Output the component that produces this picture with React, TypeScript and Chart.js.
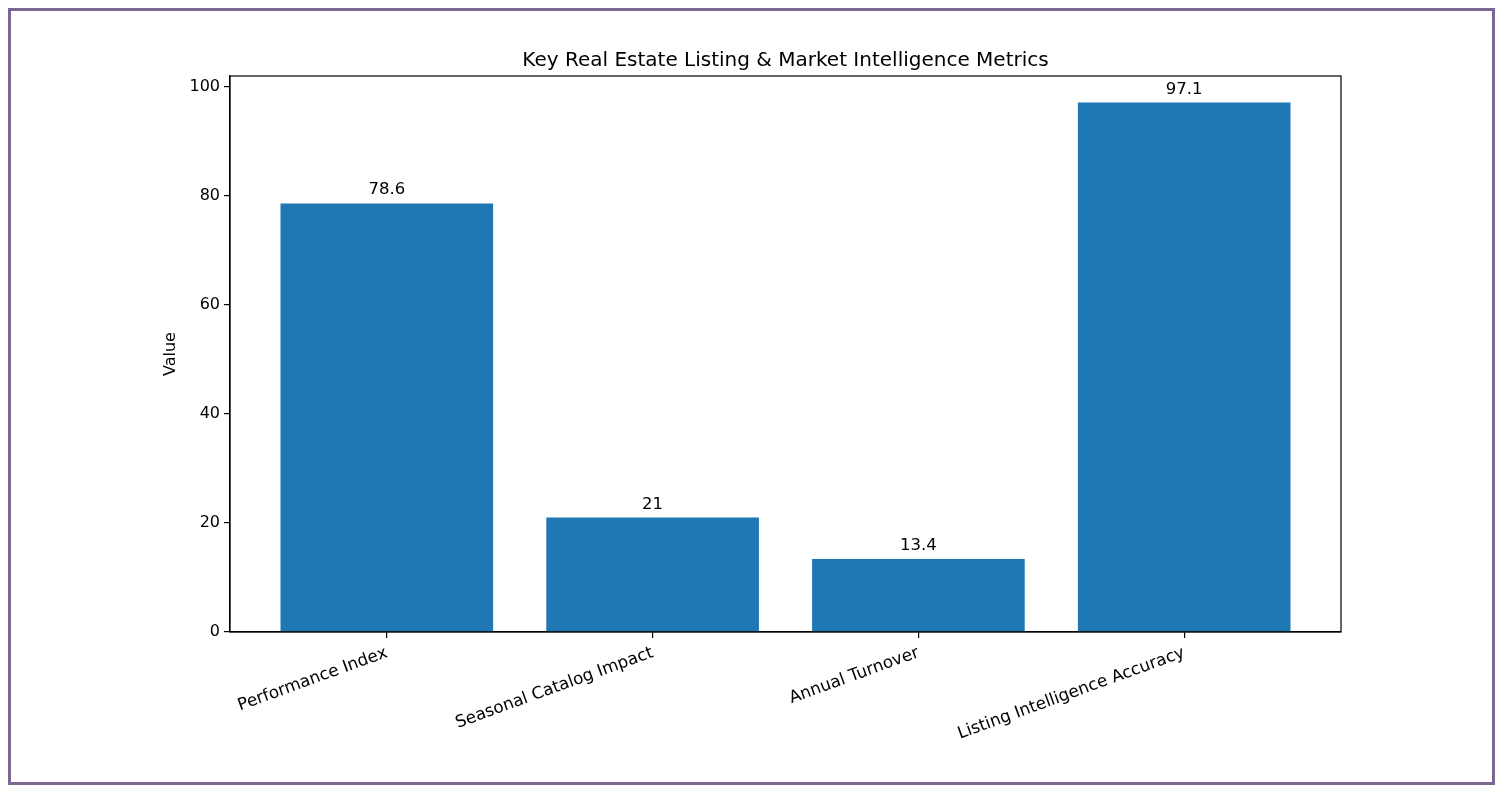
import { useEffect, useRef } from 'react'
import Chart from 'chart.js/auto'

const categories = ['Performance Index', 'Seasonal Catalog Impact', 'Annual Turnover', 'Listing Intelligence Accuracy']
const values = [78.6, 21, 13.4, 97.1]
const valueLabels = ['78.6', '21', '13.4', '97.1']
const yTicks = [0, 20, 40, 60, 80, 100]

const FONT = "'DejaVu Sans', sans-serif"
const BAR = '#1f77b4'

const frame = {
  id: 'frame',
  afterDatasetsDraw(c: Chart) {
    const { ctx, chartArea: a } = c
    ctx.save()
    ctx.strokeStyle = '#000'
    ctx.lineWidth = 1.2
    ctx.strokeRect(a.left, a.top, a.right - a.left, a.bottom - a.top)
    // value labels above bars
    const meta = c.getDatasetMeta(0)
    ctx.fillStyle = '#000'
    ctx.font = `16.5px ${FONT}`
    ctx.textAlign = 'center'
    ctx.textBaseline = 'bottom'
    meta.data.forEach((bar: any, i) => {
      ctx.fillText(valueLabels[i], bar.x, bar.y - 5)
    })
    ctx.restore()
  },
}

export default function App() {
  const ref = useRef<HTMLCanvasElement>(null)
  const chart = useRef<Chart | null>(null)
  useEffect(() => {
    if (!ref.current) return
    chart.current?.destroy()
    chart.current = new Chart(ref.current.getContext('2d')!, {
      type: 'bar',
      data: {
        datasets: [{
          data: values.map((v, i) => ({ x: i, y: v })),
          backgroundColor: BAR,
          borderWidth: 0,
          barPercentage: 0.8,
          categoryPercentage: 1,
        }],
      },
      options: {
        responsive: true,
        maintainAspectRatio: false,
        animation: false,
        layout: { padding: { left: 0, right: 151, top: 0, bottom: 0 } },
        plugins: {
          legend: { display: false },
          tooltip: { enabled: false },
          title: {
            display: true,
            fullSize: false,
            text: 'Key Real Estate Listing & Market Intelligence Metrics',
            color: '#000',
            font: { family: FONT, size: 20, weight: 'normal' },
            padding: { top: 38, bottom: 3 },
          },
        },
        scales: {
          x: {
            type: 'linear',
            min: -0.59,
            max: 3.59,
            offset: false,
            afterBuildTicks: (axis: any) => { axis.ticks = categories.map((_, i) => ({ value: i })) },
            afterFit: (axis: any) => { axis.height = 150 },
            grid: { display: true, offset: false, drawOnChartArea: false, drawTicks: true, tickLength: 6, color: '#000', lineWidth: 1.2 },
            border: { display: true, color: '#000', width: 1.2 },
            ticks: {
              autoSkip: false,
              minRotation: 20,
              maxRotation: 20,
              padding: 5,
              color: '#000',
              font: { family: FONT, size: 16.8 },
              callback: (v: any) => categories[v as number] ?? '',
            },
          },
          y: {
            min: 0,
            max: 101.96,
            afterBuildTicks: (axis: any) => { axis.ticks = yTicks.map((v) => ({ value: v })) },
            afterFit: (axis: any) => { axis.width = 219 },
            grid: { display: true, drawOnChartArea: false, drawTicks: true, tickLength: 6, color: '#000', lineWidth: 1.2 },
            border: { display: true, color: '#000', width: 1.2 },
            ticks: { padding: 4, color: '#000', font: { family: FONT, size: 16 } },
            title: {
              display: true,
              text: 'Value',
              color: '#000',
              font: { family: FONT, size: 16 },
              padding: { top: 150, bottom: 0 },
            },
          },
        },
      },
      plugins: [frame],
    })
    return () => chart.current?.destroy()
  }, [])
  return (
    <div style={{ height: 777, boxSizing: 'border-box', border: '3px solid #7b6790', background: '#fff' }}>
      <div style={{ position: 'relative', height: '100%' }}>
        <canvas ref={ref} />
      </div>
    </div>
  )
}
